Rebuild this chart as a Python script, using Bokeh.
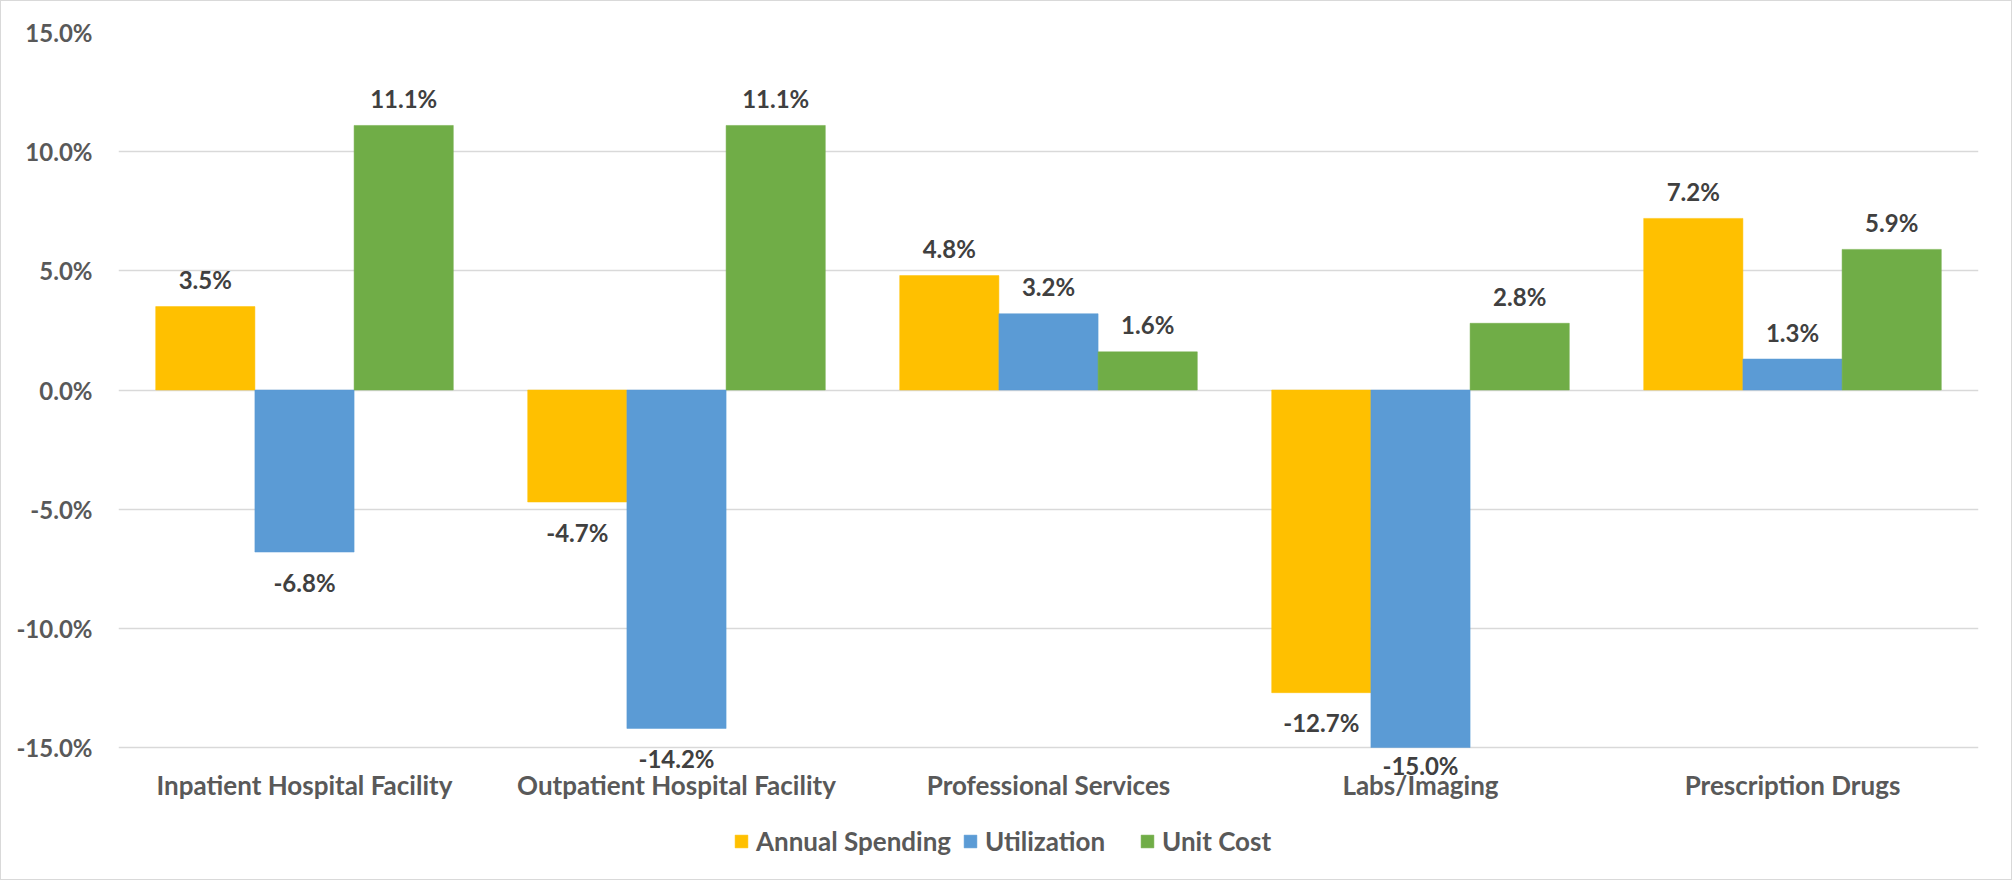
from bokeh.plotting import figure
from bokeh.models import ColumnDataSource, Range1d, FixedTicker, LabelSet, Legend, LegendItem
from bokeh.core.properties import value
from bokeh.embed import file_html
from bokeh.resources import INLINE

categories = ["Inpatient Hospital Facility", "Outpatient Hospital Facility",
              "Professional Services", "Labs/Imaging", "Prescription Drugs"]
series_names = ["Annual Spending", "Utilization", "Unit Cost"]
annual_spending = [3.5, -4.7, 4.8, -12.7, 7.2]
utilization = [-6.8, -14.2, 3.2, -15.0, 1.3]
unit_cost = [11.1, 11.1, 1.6, 2.8, 5.9]
y_ticks = [-15, -10, -5, 0, 5, 10, 15]
colors = ["#FFC000", "#5B9BD5", "#70AD47"]

FONT = "Lato"
FS_NUM = "24px"
FS_TXT = "26px"
AXIS_COLOR = "#595959"
LABEL_COLOR = "#404040"

# layout (pixels)
W, H = 2012, 880
TOP, BOTTOM, LEFT, RIGHT = 31, 4, 117, 35
AXIS_SPAN_PX = 715                      # height between the 15% and -15% gridlines
frame_h = H - TOP - BOTTOM
y_max = y_ticks[-1]
span = y_ticks[-1] - y_ticks[0]
px_per_unit = AXIS_SPAN_PX / span
y_min = y_max - frame_h / px_per_unit
LABEL_LIMIT_PX = 18                     # lowest label centre below the bottom gridline

p = figure(width=W, height=H, output_backend="svg", toolbar_location=None,
           x_range=Range1d(-0.5, len(categories) - 0.5), y_range=Range1d(y_min, y_max),
           min_border_left=LEFT, min_border_right=RIGHT, min_border_top=TOP,
           min_border_bottom=BOTTOM, x_axis_location=None)
p.styles = {"border": "1px solid #D9D9D9"}
p.outline_line_color = None
p.background_fill_color = "white"


def label_offset(v):
    if v >= 0:
        return 27
    below_px = (v - y_ticks[0]) * px_per_unit   # distance from bar end to bottom gridline
    return -min(30, below_px + LABEL_LIMIT_PX)


bw = 0.8 / 3
series = [annual_spending, utilization, unit_cost]
renderers = []
for k, (name, vals, col) in enumerate(zip(series_names, series, colors)):
    xs = [i + (k - 1) * bw for i in range(len(categories))]
    src = ColumnDataSource(dict(
        x=xs, top=vals,
        label=[f"{v:.1f}%" for v in vals],
        yoff=[label_offset(v) for v in vals],
    ))
    r = p.vbar(x="x", top="top", bottom=0, width=bw, source=src,
               fill_color=col, line_color=col, line_width=0.5)
    renderers.append(r)
    lab = LabelSet(x="x", y="top", text="label", y_offset="yoff", source=src,
                   text_align="center", text_baseline="middle",
                   text_font=value(FONT), text_font_style="bold", text_font_size=FS_NUM,
                   text_color=LABEL_COLOR)
    p.add_layout(lab)

# category labels (low position, below the -15% line)
cat_src = ColumnDataSource(dict(x=list(range(len(categories))),
                                y=[y_ticks[0]] * len(categories),
                                text=categories))
cat_labels = LabelSet(x="x", y="y", text="text", y_offset=-37, source=cat_src,
                      text_align="center", text_baseline="middle",
                      text_font=value(FONT), text_font_style="bold", text_font_size=FS_TXT,
                      text_color=AXIS_COLOR)
p.add_layout(cat_labels)

# grid
p.xgrid.grid_line_color = None
p.ygrid.ticker = FixedTicker(ticks=y_ticks)
p.ygrid.grid_line_color = "#D9D9D9"
p.ygrid.grid_line_width = 1.5

# y axis
p.yaxis.ticker = FixedTicker(ticks=y_ticks)
p.yaxis.major_label_overrides = {t: f"{t:.1f}%" for t in y_ticks}
p.yaxis.axis_line_color = None
p.yaxis.major_tick_line_color = None
p.yaxis.minor_tick_line_color = None
p.yaxis.major_label_standoff = 20
p.yaxis.major_label_text_font = FONT
p.yaxis.major_label_text_font_style = "bold"
p.yaxis.major_label_text_font_size = FS_NUM
p.yaxis.major_label_text_color = AXIS_COLOR

# legend: one entry per series, laid out horizontally below the categories
legend_x = [615, 844, 1021]
for n, r, lx in zip(series_names, renderers, legend_x):
    legend = Legend(items=[LegendItem(label=n, renderers=[r])],
                    orientation="horizontal", location=(lx, 20))
    legend.border_line_color = None
    legend.background_fill_alpha = 0
    legend.label_text_font = FONT
    legend.label_text_font_style = "bold"
    legend.label_text_font_size = FS_TXT
    legend.label_text_color = AXIS_COLOR
    legend.glyph_width = 16
    legend.glyph_height = 16
    legend.label_standoff = 7
    legend.spacing = 0
    legend.padding = 0
    legend.margin = 0
    p.add_layout(legend)

open("out.html", "w").write(file_html(p, INLINE))
